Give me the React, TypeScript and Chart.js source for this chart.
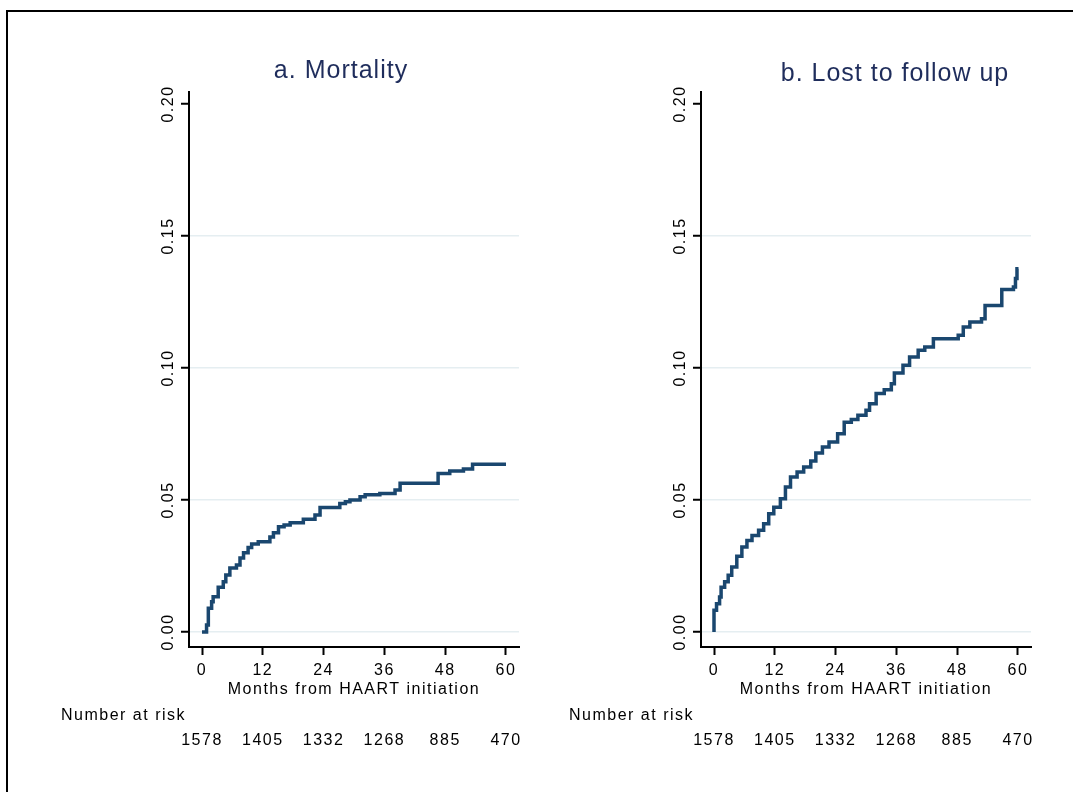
import React, { useEffect, useRef } from 'react';
import { Chart, registerables } from 'chart.js';

Chart.register(...registerables);

// ---------- data ----------
const X_TICKS = [0, 12, 24, 36, 48, 60];
const Y_TICKS = [0, 0.05, 0.1, 0.15, 0.2];
const AT_RISK = [1578, 1405, 1332, 1268, 885, 470];

const TITLE_A = 'a. Mortality';
const TITLE_B = 'b. Lost to follow up';
const X_TITLE = 'Months from HAART initiation';
const RISK_LABEL = 'Number at risk';

// Mortality: cumulative incidence step function (time of jump, new value)
const MORT_TIME = [0, 0.9, 1.25, 1.9, 2.2, 3.2, 4.2, 4.7, 5.5, 6.8, 7.5, 8.2, 9.1, 9.8, 11.1, 13.4, 14.1, 15.1, 16.2, 17.4, 20.0, 22.3, 23.3, 27.2, 28.3, 29.2, 31.2, 32.2, 35.1, 38.1, 39.1, 46.6, 48.9, 51.6, 53.4, 60.0];
const MORT_CUM = [0, 0.0027, 0.009, 0.0115, 0.0134, 0.017, 0.019, 0.0216, 0.0242, 0.0254, 0.028, 0.030, 0.032, 0.0333, 0.0342, 0.036, 0.0376, 0.0399, 0.0405, 0.0414, 0.0427, 0.0443, 0.0472, 0.0487, 0.0493, 0.050, 0.0512, 0.052, 0.0525, 0.0538, 0.0563, 0.060, 0.061, 0.0617, 0.0635, 0.0635];

// Lost to follow up
const LTFU_TIME = [0, 0, 0.5, 1.1, 1.4, 2.1, 2.8, 3.5, 4.5, 5.5, 6.5, 7.5, 8.8, 9.8, 10.8, 11.8, 13.1, 14.1, 15.1, 16.4, 17.7, 19.1, 20.1, 21.4, 22.7, 24.4, 25.7, 27.1, 28.4, 30.0, 30.7, 32.0, 33.6, 35.0, 35.6, 37.3, 38.6, 40.3, 41.6, 43.3, 48.2, 49.2, 50.5, 52.8, 53.5, 56.8, 59.1, 59.5, 59.8, 60.1];
const LTFU_CUM = [0, 0.0082, 0.0107, 0.0133, 0.017, 0.019, 0.0215, 0.0246, 0.0287, 0.0322, 0.0347, 0.0366, 0.0385, 0.041, 0.0448, 0.0473, 0.0505, 0.0549, 0.0587, 0.0606, 0.0625, 0.0648, 0.0678, 0.0701, 0.072, 0.0751, 0.0795, 0.0805, 0.0821, 0.084, 0.0865, 0.0903, 0.0918, 0.094, 0.0981, 0.101, 0.1042, 0.1067, 0.108, 0.1111, 0.1124, 0.1155, 0.1174, 0.1187, 0.1237, 0.1297, 0.1307, 0.1339, 0.1376, 0.1376];

// ---------- styling ----------
const FONT = "'Liberation Sans', Arial, sans-serif";
const LINE_COLOR = '#1a476f';
const TITLE_COLOR = '#1f2d5c';
const GRID_COLOR = '#e5eef1';
const X_MIN = -2.566;
const X_MAX = 62.566;
const Y_MIN = -0.00568;
const Y_MAX = 0.20455;
const PAGE_W = 1073;
const PAGE_H = 792;

type PanelProps = {
  left: number;
  width: number;
  yAxisWidth: number;
  title: string;
  titleX: number;
  titleY: number;
  times: number[];
  values: number[];
  riskOffset: number;
};

function Panel(props: PanelProps) {
  const ref = useRef<HTMLCanvasElement | null>(null);

  useEffect(() => {
    const canvas = ref.current;
    if (!canvas) return;
    const { width, yAxisWidth, title, titleX, titleY, times, values, riskOffset } = props;

    const decor = {
      id: 'decor',
      beforeDraw(chart: any) {
        chart.ctx.letterSpacing = '1.5px';
      },
      afterDraw(chart: any) {
        const ctx = chart.ctx as CanvasRenderingContext2D;
        const ys = chart.scales.y;
        const xs = chart.scales.x;
        const area = chart.chartArea;
        ctx.save();
        // y tick labels, rotated
        ctx.fillStyle = '#000';
        ctx.font = `16px ${FONT}`;
        (ctx as any).letterSpacing = '1.5px';
        for (const v of Y_TICKS) {
          const py = ys.getPixelForValue(v);
          ctx.save();
          ctx.translate(area.left - 20, py);
          ctx.rotate(-Math.PI / 2);
          ctx.textAlign = 'center';
          ctx.textBaseline = 'middle';
          ctx.fillText(v.toFixed(2), 0, 0);
          ctx.restore();
        }
        // number at risk
        ctx.textAlign = 'left';
        ctx.textBaseline = 'alphabetic';
        ctx.fillText(RISK_LABEL, area.left - riskOffset, 720);
        ctx.textAlign = 'center';
        X_TICKS.forEach((t, i) => {
          ctx.fillText(String(AT_RISK[i]), xs.getPixelForValue(t), 745);
        });
        // panel title
        ctx.font = `25px ${FONT}`;
        (ctx as any).letterSpacing = '1px';
        ctx.fillStyle = TITLE_COLOR;
        ctx.textAlign = 'center';
        ctx.textBaseline = 'alphabetic';
        ctx.fillText(title, titleX, titleY);
        ctx.restore();
      },
    };

    const chart = new Chart(canvas, {
      type: 'line',
      data: {
        datasets: [
          {
            data: times.map((t, i) => ({ x: t, y: values[i] })),
            borderColor: LINE_COLOR,
            borderWidth: 3.5,
            pointRadius: 0,
            stepped: 'before',
            fill: false,
            tension: 0,
          },
        ],
      },
      options: {
        animation: false,
        responsive: false,
        devicePixelRatio: 1,
        layout: { padding: { left: 0, top: 92, right: width - yAxisWidth - 330, bottom: 93 } },
        plugins: {
          legend: { display: false },
          tooltip: { enabled: false },
          title: { display: false },
        },
        scales: {
          x: {
            type: 'linear',
            min: X_MIN,
            max: X_MAX,
            afterBuildTicks: (s: any) => {
              s.ticks = X_TICKS.map((v) => ({ value: v }));
            },
            afterFit: (s: any) => {
              s.height = 52;
            },
            grid: { drawOnChartArea: false, drawTicks: true, tickLength: 8, tickColor: '#000', tickWidth: 2 },
            border: { display: true, color: '#000', width: 2 },
            ticks: {
              autoSkip: false,
              maxRotation: 0,
              minRotation: 0,
              padding: 6,
              color: '#000',
              font: { family: FONT, size: 16 },
              callback: (v: any) => String(v),
            },
            title: {
              display: true,
              text: X_TITLE,
              color: '#000',
              font: { family: FONT, size: 16 },
              padding: { top: 0, bottom: 0 },
            },
          },
          y: {
            type: 'linear',
            min: Y_MIN,
            max: Y_MAX,
            afterBuildTicks: (s: any) => {
              s.ticks = Y_TICKS.map((v) => ({ value: v }));
            },
            afterFit: (s: any) => {
              s.width = yAxisWidth;
            },
            grid: {
              color: (c: any) => (c.tick && c.tick.value >= 0.2 ? 'rgba(0,0,0,0)' : GRID_COLOR),
              lineWidth: 1.5,
              drawTicks: true,
              tickLength: 8,
              tickColor: '#000',
              tickWidth: 2,
            },
            border: { display: true, color: '#000', width: 2 },
            ticks: { display: false },
          },
        },
      } as any,
      plugins: [decor],
    });
    return () => chart.destroy();
  }, []);

  return (
    <canvas
      ref={ref}
      width={props.width}
      height={PAGE_H}
      style={{ position: 'absolute', left: props.left, top: 0, width: props.width, height: PAGE_H, display: 'block' }}
    />
  );
}

export default function App() {
  return (
    <div
      style={{
        position: 'absolute',
        left: 0,
        top: 0,
        width: PAGE_W,
        height: PAGE_H,
        overflow: 'hidden',
        background: '#fff',
      }}
    >
      <div
        style={{
          position: 'absolute',
          left: 6,
          top: 10,
          width: 1200,
          height: 1000,
          borderTop: '2px solid #000',
          borderLeft: '2px solid #000',
        }}
      />
      <Panel
        left={0}
        width={540}
        yAxisWidth={189}
        title={TITLE_A}
        titleX={341}
        titleY={78}
        times={MORT_TIME}
        values={MORT_CUM}
        riskOffset={128}
      />
      <Panel
        left={540}
        width={533}
        yAxisWidth={161}
        title={TITLE_B}
        titleX={355}
        titleY={81}
        times={LTFU_TIME}
        values={LTFU_CUM}
        riskOffset={132}
      />
    </div>
  );
}
